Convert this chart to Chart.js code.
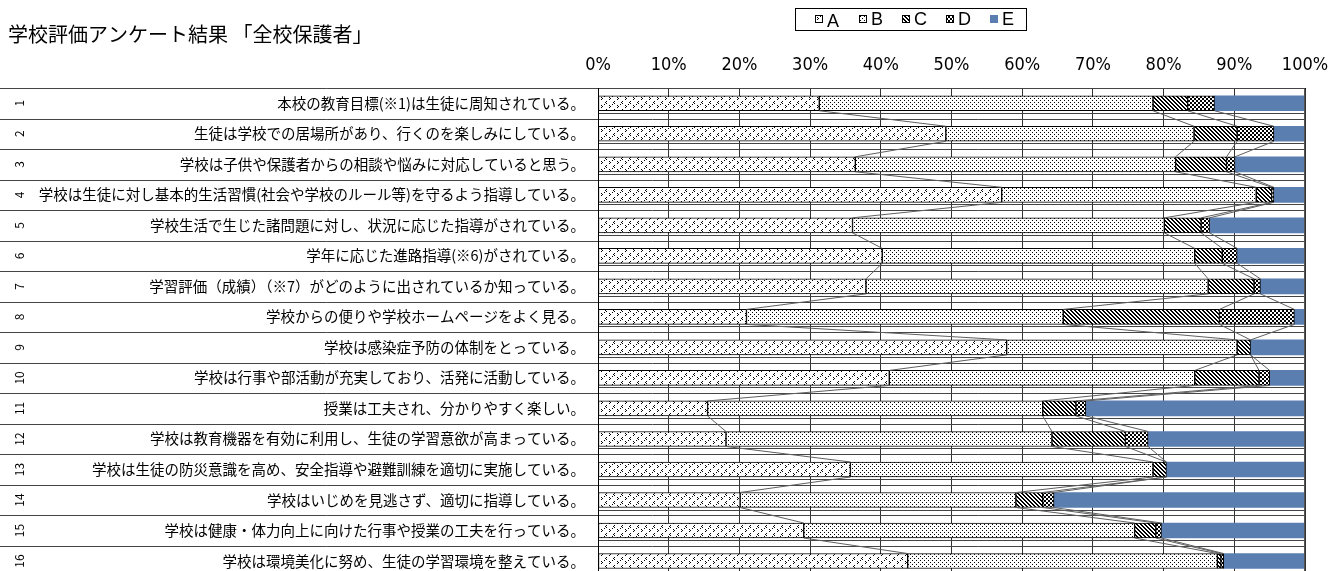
<!DOCTYPE html>
<html lang="ja">
<head>
<meta charset="utf-8">
<title>学校評価アンケート結果</title>
<script src="https://cdn.jsdelivr.net/npm/chart.js@4.4.1/dist/chart.umd.min.js"></script>
<style>
  html, body { margin: 0; padding: 0; background: #fff; overflow: hidden; }
  #wrap { width: 1343px; height: 600px; }
</style>
</head>
<body>
<div id="wrap"><canvas id="chart" width="1343" height="598"></canvas></div>
<script>
// 設問
const categories = [
  '本校の教育目標(※1)は生徒に周知されている。',
  '生徒は学校での居場所があり、行くのを楽しみにしている。',
  '学校は子供や保護者からの相談や悩みに対応していると思う。',
  '学校は生徒に対し基本的生活習慣(社会や学校のルール等)を守るよう指導している。',
  '学校生活で生じた諸問題に対し、状況に応じた指導がされている。',
  '学年に応じた進路指導(※6)がされている。',
  '学習評価（成績）（※7）がどのように出されているか知っている。',
  '学校からの便りや学校ホームページをよく見る。',
  '学校は感染症予防の体制をとっている。',
  '学校は行事や部活動が充実しており、活発に活動している。',
  '授業は工夫され、分かりやすく楽しい。',
  '学校は教育機器を有効に利用し、生徒の学習意欲が高まっている。',
  '学校は生徒の防災意識を高め、安全指導や避難訓練を適切に実施している。',
  '学校はいじめを見逃さず、適切に指導している。',
  '学校は健康・体力向上に向けた行事や授業の工夫を行っている。',
  '学校は環境美化に努め、生徒の学習環境を整えている。'
];
const rowNumbers = ['1','2','3','4','5','6','7','8','9','10','11','12','13','14','15','16'];

// 回答割合 (%)
const seriesA = [31.3, 49.2, 36.4, 57.1, 36.0, 40.2, 37.9, 21.0, 57.8, 41.2, 15.5, 18.1, 35.7, 20.1, 29.1, 43.8];
const seriesB = [47.2, 35.1, 45.3, 36.0, 44.1, 44.2, 48.4, 44.8, 32.6, 43.2, 47.4, 46.1, 42.8, 39.0, 46.8, 43.8];
const seriesC = [4.9, 6.1, 7.2, 2.2, 5.2, 3.9, 6.5, 22.1, 1.9, 9.1, 4.7, 10.4, 1.9, 3.8, 3.0, 0.5];
const seriesD = [3.8, 5.2, 1.2, 0.3, 1.2, 2.1, 0.9, 10.6, 0.0, 1.5, 1.4, 3.2, 0.0, 1.6, 0.8, 0.4];
const seriesE = [12.8, 4.4, 9.9, 4.4, 13.5, 9.6, 6.3, 1.5, 7.7, 5.0, 31.0, 22.2, 19.6, 35.5, 20.3, 11.5];
const seriesNames = ['A', 'B', 'C', 'D', 'E'];
const xTicks = [0, 10, 20, 30, 40, 50, 60, 70, 80, 90, 100];

const JP_FONT = '"Noto Sans CJK JP", "Noto Sans", sans-serif';
const BLUE = '#5a7eb0';

// 模様タイルを作る
function makePattern(size, pixels) {
  const c = document.createElement('canvas');
  c.width = size; c.height = size;
  const g = c.getContext('2d');
  g.fillStyle = '#fff';
  g.fillRect(0, 0, size, size);
  g.fillStyle = '#000';
  pixels.forEach(p => g.fillRect(p[0], p[1], 1, 1));
  return document.getElementById('chart').getContext('2d').createPattern(c, 'repeat');
}

const patA = makePattern(8, [[1,1],[2,2],[1,3],[6,5],[5,6],[6,7],[4,0]]);
const patB = makePattern(4, [[0,0],[2,2]]);
const patC = makePattern(4, [[0,0],[1,1],[2,2],[3,3],[1,0],[2,1],[3,2],[0,3]]);
const patD = makePattern(4, [[0,0],[1,0],[0,1],[1,1],[2,2],[3,2],[2,3],[3,3]]);
const fills = [patA, patB, patC, patD, BLUE];

const allSeries = [seriesA, seriesB, seriesC, seriesD, seriesE];

// 行の枠線・番号・系列線・タイトル・凡例
const decorPlugin = {
  id: 'decor',
  beforeDatasetsDraw(chart) {
    const ctx = chart.ctx;
    const area = chart.chartArea;
    const yScale = chart.scales.y;
    const pitch = yScale.getPixelForValue(1) - yScale.getPixelForValue(0);
    ctx.save();
    ctx.strokeStyle = '#444';
    ctx.lineWidth = 1;
    for (let i = 0; i <= categories.length; i++) {
      const y = Math.round(yScale.getPixelForValue(i) - pitch / 2) + 0.5;
      ctx.beginPath();
      ctx.moveTo(0, y);
      ctx.lineTo(area.right, y);
      ctx.stroke();
      if (i < categories.length) {
        const y2 = Math.round(yScale.getPixelForValue(i) + 9.5) + 0.5;
        ctx.beginPath();
        ctx.moveTo(area.left, y2);
        ctx.lineTo(area.right, y2);
        ctx.stroke();
      }
    }
    ctx.restore();
  },
  afterDatasetsDraw(chart) {
    const ctx = chart.ctx;
    ctx.save();
    ctx.strokeStyle = '#5f5f5f';
    ctx.lineWidth = 1;
    for (let d = 0; d < 4; d++) {
      const bars = chart.getDatasetMeta(d).data;
      for (let i = 0; i < bars.length - 1; i++) {
        const a = bars[i], b = bars[i + 1];
        ctx.beginPath();
        ctx.moveTo(a.x, a.y + a.height / 2);
        ctx.lineTo(b.x, b.y - b.height / 2);
        ctx.stroke();
      }
    }
    ctx.restore();
  },
  afterDraw(chart) {
    const ctx = chart.ctx;
    const area = chart.chartArea;
    const yScale = chart.scales.y;
    ctx.save();
    // 左右の枠
    ctx.strokeStyle = '#000';
    ctx.lineWidth = 1;
    ctx.beginPath();
    ctx.moveTo(Math.round(area.left) + 0.5, area.top);
    ctx.lineTo(Math.round(area.left) + 0.5, area.bottom);
    ctx.stroke();
    ctx.strokeStyle = '#555';
    ctx.beginPath();
    ctx.moveTo(Math.round(area.right) - 0.5, area.top);
    ctx.lineTo(Math.round(area.right) - 0.5, area.bottom);
    ctx.stroke();

    // 縦書きの番号
    ctx.fillStyle = '#000';
    ctx.font = '12px ' + JP_FONT;
    ctx.textAlign = 'center';
    ctx.textBaseline = 'middle';
    rowNumbers.forEach((n, i) => {
      ctx.save();
      ctx.translate(19, yScale.getPixelForValue(i));
      ctx.rotate(-Math.PI / 2);
      ctx.fillText(n, 0, 0);
      ctx.restore();
    });

    // タイトル
    ctx.font = '20px ' + JP_FONT;
    ctx.textAlign = 'left';
    ctx.fillText('学校評価アンケート結果 「全校保護者」', 8, 34);

    // 凡例
    ctx.strokeStyle = '#000';
    ctx.strokeRect(795.5, 8.5, 231, 22);
    const xs = [815, 859, 902, 946, 990];
    ctx.font = '18px "Liberation Sans", sans-serif';
    seriesNames.forEach((name, k) => {
      ctx.fillStyle = fills[k];
      ctx.fillRect(xs[k], 15, 8, 8);
      if (k < 4) {
        ctx.strokeStyle = '#000';
        ctx.strokeRect(xs[k] + 0.5, 15.5, 7, 7);
      }
      ctx.fillStyle = '#000';
      ctx.fillText(name, xs[k] + 12, k === 0 ? 22 : 20);
    });
    ctx.restore();
  }
};

new Chart(document.getElementById('chart'), {
  type: 'bar',
  data: {
    labels: categories,
    datasets: allSeries.map((vals, k) => ({
      label: seriesNames[k],
      data: vals,
      backgroundColor: fills[k],
      borderColor: '#000',
      borderWidth: k < 4 ? 1 : 0,
      borderSkipped: false,
      barThickness: 15
    }))
  },
  options: {
    indexAxis: 'y',
    responsive: false,
    animation: false,
    layout: { padding: { left: 0, right: 38, top: 0, bottom: 0 } },
    plugins: {
      legend: { display: false },
      title: { display: false },
      tooltip: { enabled: false }
    },
    scales: {
      x: {
        position: 'top',
        stacked: true,
        min: 0,
        max: 100,
        afterBuildTicks: (scale) => { scale.ticks = xTicks.map(v => ({ value: v })); },
        afterFit: (scale) => { scale.height = 88; },
        ticks: {
          callback: (v) => v + '%',
          color: '#000',
          padding: 12,
          maxRotation: 0,
          font: { family: '"Liberation Sans Narrow", "DejaVu Sans Condensed", sans-serif', size: 18 }
        },
        grid: { color: '#333', drawTicks: false },
        border: { display: true, color: '#000' }
      },
      y: {
        stacked: true,
        afterFit: (scale) => { scale.width = 598; },
        ticks: {
          color: '#000',
          padding: 13,
          autoSkip: false,
          font: { family: JP_FONT, size: 14.5 }
        },
        grid: { display: false, drawTicks: false },
        border: { display: false }
      }
    }
  },
  plugins: [decorPlugin]
});
</script>
</body>
</html>
